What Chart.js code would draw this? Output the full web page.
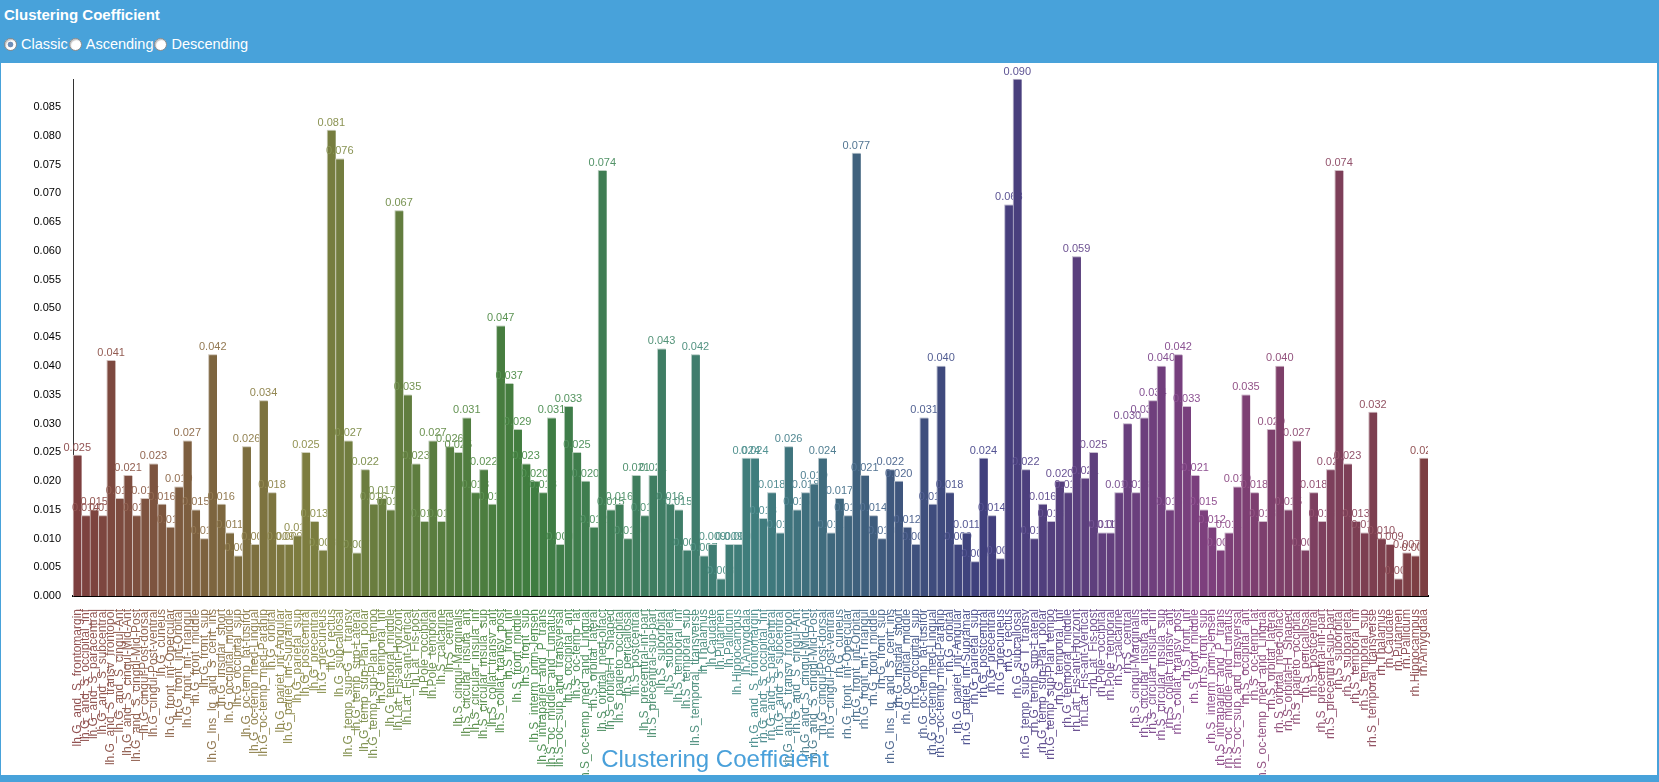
<!DOCTYPE html>
<html>
<head>
<meta charset="utf-8">
<script src="https://cdn.jsdelivr.net/npm/chart.js@4.4.1/dist/chart.umd.min.js"></script>
<style>
    html, body { margin: 0; padding: 0; }
    body {
        width: 1659px; height: 782px; overflow: hidden;
        background: #48a2da;
        font-family: "Liberation Sans", Arial, sans-serif;
        position: relative;
    }
    #title {
        position: absolute; left: 4px; top: 6px;
        color: #fff; font-weight: bold; font-size: 15px;
    }
    #sort {
        position: absolute; left: 0; top: 36px;
        color: #fff; font-size: 14.5px;
        display: flex; align-items: center;
    }
    #sort input {
        -webkit-appearance: none; appearance: none;
        margin: 0 4px 0 1px; width: 13px; height: 13px;
        box-sizing: border-box; border-radius: 50%;
        border: 1px solid #8a8a8a; background: #fff;
        box-shadow: inset 1px 1px 1px rgba(0,0,0,0.25);
    }
    #sort input:checked {
        background: radial-gradient(circle, #6f8fb8 0, #6f8fb8 2.5px, #fff 3.2px);
    }
    #sort input:first-child { margin-left: 4px; }
    #panel {
        position: absolute; left: 1px; top: 63px;
        width: 1656px; height: 712px; background: #fff;
    }
    #chart { position: absolute; left: -1px; top: 0; }
    #xtitle {
        position: absolute; left: 0; width: 1428px; top: 682px;
        text-align: center; color: #49a0da; font-size: 24px; line-height: 28px;
    }
</style>
</head>
<body>
<div id="title">Clustering Coefficient</div>
<div id="sort">
    <input type="radio" name="sort" checked>Classic<input type="radio" name="sort">Ascending<input type="radio" name="sort">Descending
</div>
<div id="panel">
    <canvas id="chart" width="1657" height="712"></canvas>
    <div id="xtitle">Clustering Coefficient</div>
</div>
<script>
// Destrieux 영역 이름 (반구마다 같은 순서)
const regions = [
    'G_and_S_frontomargin', 'G_and_S_occipital_inf', 'G_and_S_paracentral', 'G_and_S_subcentral',
    'G_and_S_transv_frontopol', 'G_and_S_cingul-Ant', 'G_and_S_cingul-Mid-Ant', 'G_and_S_cingul-Mid-Post',
    'G_cingul-Post-dorsal', 'G_cingul-Post-ventral', 'G_cuneus', 'G_front_inf-Opercular',
    'G_front_inf-Orbital', 'G_front_inf-Triangul', 'G_front_middle', 'G_front_sup',
    'G_Ins_lg_and_S_cent_ins', 'G_insular_short', 'G_occipital_middle', 'G_occipital_sup',
    'G_oc-temp_lat-fusifor', 'G_oc-temp_med-Lingual', 'G_oc-temp_med-Parahip', 'G_orbital',
    'G_pariet_inf-Angular', 'G_pariet_inf-Supramar', 'G_parietal_sup', 'G_postcentral',
    'G_precentral', 'G_precuneus', 'G_rectus', 'G_subcallosal',
    'G_temp_sup-G_T_transv', 'G_temp_sup-Lateral', 'G_temp_sup-Plan_polar', 'G_temp_sup-Plan_tempo',
    'G_temporal_inf', 'G_temporal_middle', 'Lat_Fis-ant-Horizont', 'Lat_Fis-ant-Vertical',
    'Lat_Fis-post', 'Pole_occipital', 'Pole_temporal', 'S_calcarine',
    'S_central', 'S_cingul-Marginalis', 'S_circular_insula_ant', 'S_circular_insula_inf',
    'S_circular_insula_sup', 'S_collat_transv_ant', 'S_collat_transv_post', 'S_front_inf',
    'S_front_middle', 'S_front_sup', 'S_interm_prim-Jensen', 'S_intrapariet_and_P_trans',
    'S_oc_middle_and_Lunatus', 'S_oc_sup_and_transversal', 'S_occipital_ant', 'S_oc-temp_lat',
    'S_oc-temp_med_and_Lingual', 'S_orbital_lateral', 'S_orbital_med-olfact', 'S_orbital-H_Shaped',
    'S_parieto_occipital', 'S_pericallosal', 'S_postcentral', 'S_precentral-inf-part',
    'S_precentral-sup-part', 'S_suborbital', 'S_subparietal', 'S_temporal_inf',
    'S_temporal_sup', 'S_temporal_transverse', 'Thalamus', 'Caudate',
    'Putamen', 'Pallidum', 'Hippocampus', 'Amygdala'
];

// 왼쪽 반구 값
const lhValues = [
    0.0245, 0.014, 0.015, 0.014, 0.041, 0.017, 0.021, 0.014,
    0.017, 0.023, 0.016, 0.012, 0.019, 0.027, 0.015, 0.010,
    0.042, 0.016, 0.011, 0.007, 0.026, 0.009, 0.034, 0.018,
    0.009, 0.009, 0.0105, 0.025, 0.013, 0.008, 0.081, 0.076,
    0.027, 0.0075, 0.022, 0.016, 0.017, 0.015, 0.067, 0.035,
    0.023, 0.013, 0.027, 0.013, 0.026, 0.025, 0.031, 0.018,
    0.022, 0.016, 0.047, 0.037, 0.029, 0.023, 0.020, 0.018,
    0.031, 0.009, 0.033, 0.025, 0.020, 0.012, 0.074, 0.015,
    0.016, 0.010, 0.021, 0.014, 0.021, 0.043, 0.016, 0.015,
    0.008, 0.042, 0.007, 0.009, 0.003, 0.009, 0.009, 0.024
];

// 오른쪽 반구 값
const rhValues = [
    0.024, 0.0135, 0.018, 0.011, 0.026, 0.015, 0.018, 0.0195,
    0.024, 0.011, 0.017, 0.014, 0.077, 0.021, 0.014, 0.010,
    0.022, 0.020, 0.012, 0.009, 0.031, 0.016, 0.040, 0.018,
    0.009, 0.011, 0.006, 0.024, 0.014, 0.0065, 0.068, 0.0899,
    0.022, 0.010, 0.016, 0.013, 0.020, 0.018, 0.059, 0.0205,
    0.025, 0.011, 0.011, 0.018, 0.030, 0.018, 0.031, 0.034,
    0.040, 0.015, 0.042, 0.033, 0.021, 0.015, 0.012, 0.008,
    0.011, 0.019, 0.035, 0.018, 0.013, 0.029, 0.040, 0.015,
    0.027, 0.008, 0.018, 0.013, 0.022, 0.074, 0.023, 0.013,
    0.011, 0.032, 0.010, 0.009, 0.003, 0.0075, 0.007, 0.024
];

const labels = regions.map(r => 'lh.' + r).concat(regions.map(r => 'rh.' + r));
const values = lhValues.concat(rhValues);
const n = values.length;

// 막대 순서대로 색상 (색상환을 한 바퀴 돈다)
function hue(i) { return i * 360 / n; }
const barColors = values.map((v, i) => `hsl(${hue(i)}, 33%, 37%)`);
const edgeColors = values.map((v, i) => `hsl(${hue(i)}, 18%, 78%)`);
const textColors = values.map((v, i) => `hsl(${hue(i)}, 28%, 45%)`);

// 막대 위 숫자 (다음 막대가 이전 숫자를 덮도록 하나씩 그림)
const valueLabels = {
    id: 'valueLabels',
    afterDatasetsDraw(chart) {
        const ctx = chart.ctx;
        const meta = chart.getDatasetMeta(0);
        ctx.save();
        ctx.beginPath();
        ctx.rect(0, 0, chart.chartArea.right, chart.height);
        ctx.clip();
        ctx.font = '11px "Liberation Sans", Arial, sans-serif';
        ctx.textAlign = 'center';
        ctx.textBaseline = 'bottom';
        meta.data.forEach((bar, i) => {
            bar.draw(ctx);
            ctx.fillStyle = textColors[i];
            ctx.fillText(values[i].toFixed(3), bar.x, bar.y - 2);
        });
        ctx.restore();
    }
};

new Chart(document.getElementById('chart'), {
    type: 'bar',
    data: {
        labels: labels,
        datasets: [{
            data: values,
            backgroundColor: barColors,
            borderColor: edgeColors,
            borderWidth: { left: 1, top: 1, right: 0, bottom: 0 },
            borderSkipped: false,
            barPercentage: 1,
            categoryPercentage: 1
        }]
    },
    options: {
        responsive: false,
        animation: false,
        layout: { padding: { top: 16, right: 229, left: 0, bottom: 0 } },
        plugins: {
            legend: { display: false },
            tooltip: { enabled: false }
        },
        scales: {
            x: {
                grid: { display: false },
                border: { display: true, color: '#000', width: 2 },
                afterFit(s) { s.height = 179; },
                ticks: {
                    autoSkip: false,
                    minRotation: 90,
                    maxRotation: 90,
                    padding: 5,
                    font: { size: 12, family: '"Liberation Sans", Arial, sans-serif' },
                    color: c => textColors[c.index]
                }
            },
            y: {
                min: 0,
                max: Math.max(...values),
                grid: { display: false },
                border: { display: true, color: '#333', width: 1 },
                afterFit(s) { s.width = 73; },
                afterBuildTicks(s) {
                    s.ticks = s.ticks.filter(t => Math.abs(t.value / 0.005 - Math.round(t.value / 0.005)) < 1e-6);
                },
                ticks: {
                    stepSize: 0.005,
                    padding: 4,
                    color: '#000',
                    font: { size: 11, family: '"Liberation Sans", Arial, sans-serif' },
                    callback: v => v.toFixed(3)
                }
            }
        }
    },
    plugins: [valueLabels]
});
</script>
</body>
</html>
